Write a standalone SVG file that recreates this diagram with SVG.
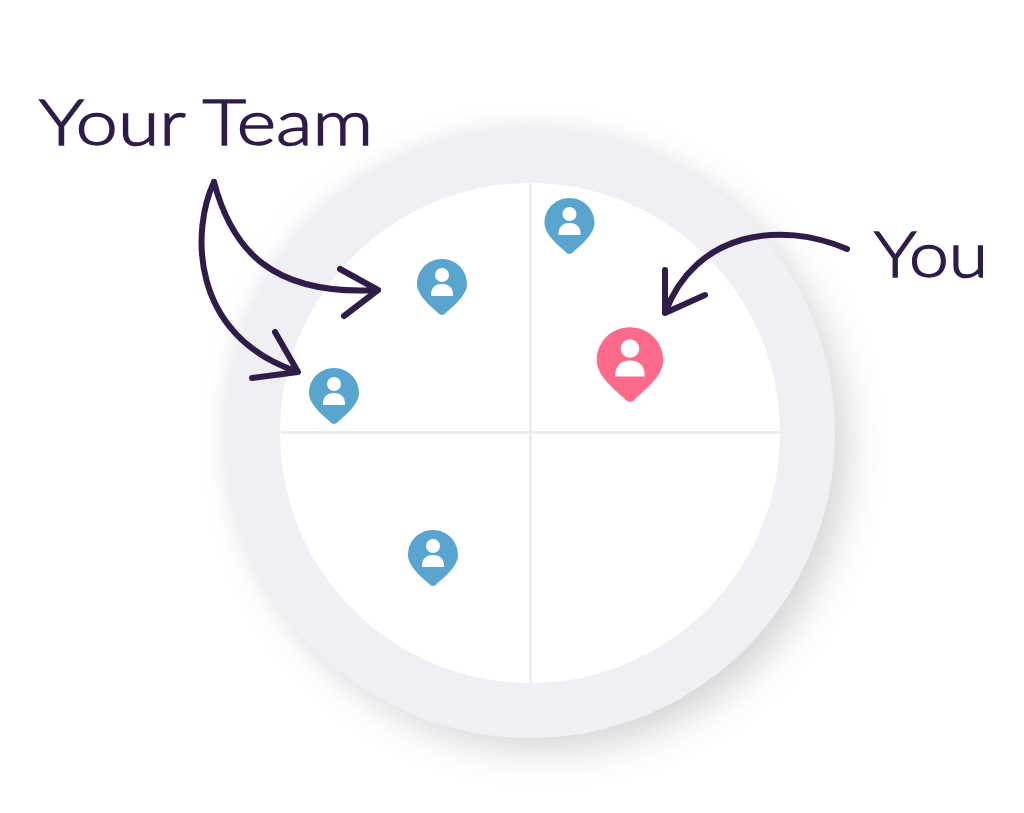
<svg xmlns="http://www.w3.org/2000/svg" width="1024" height="813" viewBox="0 0 1024 813">
<style>
.lbl{font-family:"Lato","Open Sans","Liberation Sans",sans-serif;font-weight:300;fill:#2f1c49;stroke:#2f1c49;stroke-width:1.5}
.arrow{fill:none;stroke:#2f1c49;stroke-width:6;stroke-linecap:round;stroke-linejoin:round}
.div{stroke:#eeeeef;stroke-width:3;fill:none}
.blue{fill:#5aa5cf}.pink{fill:#fe6b8a}.w{fill:#fff}
</style>
<defs>
<filter id="sh" x="-30%" y="-30%" width="160%" height="160%"><feGaussianBlur stdDeviation="22"/></filter>
<filter id="glow" x="-30%" y="-30%" width="160%" height="160%"><feGaussianBlur stdDeviation="9"/></filter>
<g id="pin">
<path d="M0 28C-1.500 28-2.500 27.300-3.500 26.300C-10 20-25 9-25-3C-25-17-14-28 0-28C14-28 25-17 25-3C25 9 10 20 3.500 26.300C2.500 27.300 1.500 28 0 28Z"/>
<circle class="w" cx="0" cy="-12" r="7"/>
<path class="w" d="M-11 9C-11.500 0-6-3 0-3C6-3 11.500 0 11 9Z"/>
</g>
</defs>
<rect width="1024" height="813" fill="#fff"/>
<g id="dial">
<circle cx="545" cy="448" r="298" fill="#000" opacity=".2" filter="url(#sh)"/>
<circle cx="526" cy="429" r="303" fill="#ebebf1" filter="url(#glow)"/>
<circle cx="530" cy="433" r="305" fill="#efeff4"/>
<circle cx="530" cy="433" r="250" fill="#fff"/>
<path class="div" d="M530.500 183V683M281 432.500H780"/>
</g>
<g id="pin-team-1"><use href="#pin" class="blue" transform="translate(442 287)"/></g>
<g id="pin-team-2"><use href="#pin" class="blue" transform="translate(569.500 226)"/></g>
<g id="pin-team-3"><use href="#pin" class="blue" transform="translate(334 396)"/></g>
<g id="pin-team-4"><use href="#pin" class="blue" transform="translate(433 558)"/></g>
<g id="pin-you"><use href="#pin" class="pink" transform="translate(630 364.500) scale(1.33)"/></g>
<g id="connectors">
<path class="arrow" d="M214 182C232 250 272 296 378 290M340 269L378 290L344 316"/>
<path class="arrow" d="M214 182C192 228 188 335 298 372M275 332L298 372L252 378"/>
<path class="arrow" d="M847 249C780 220 695 232 665 313M665 270L665 313L705 295"/>
</g>
<g id="label-team"><text class="lbl" x="39" y="145" font-size="64" textLength="334" lengthAdjust="spacingAndGlyphs">Your Team</text></g>
<g id="label-you"><text class="lbl" x="874" y="277" font-size="64" textLength="114" lengthAdjust="spacingAndGlyphs">You</text></g>
</svg>
